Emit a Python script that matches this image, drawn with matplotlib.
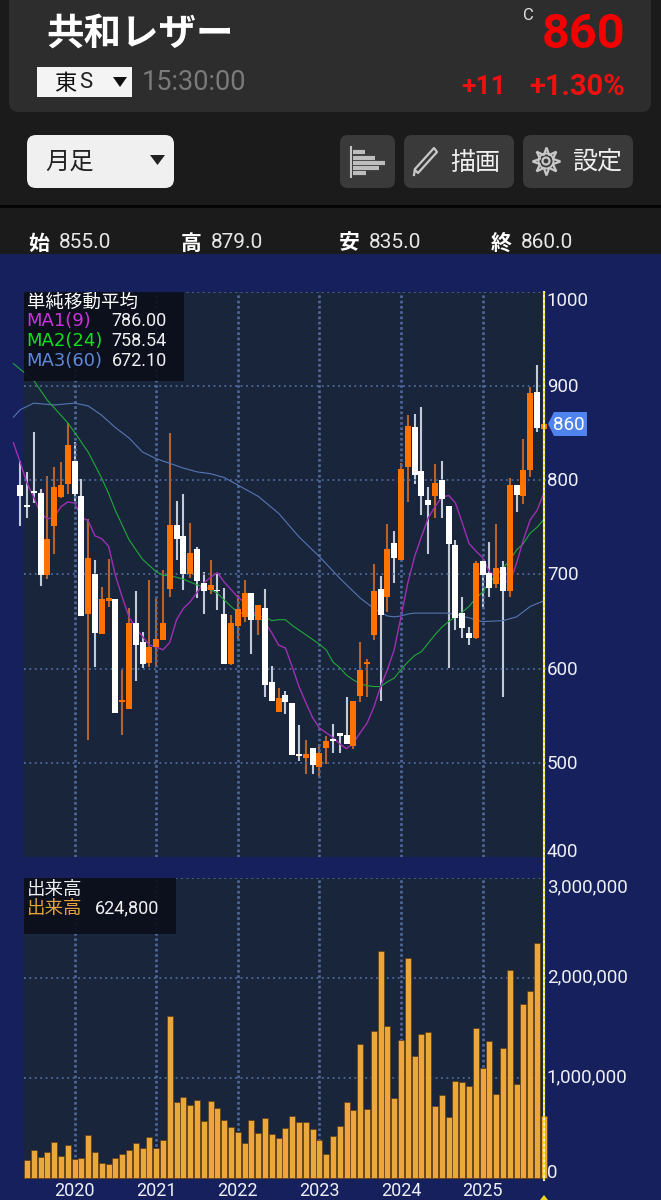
import numpy as np
import matplotlib
matplotlib.use("Agg")
import matplotlib.pyplot as plt
from matplotlib.patches import FancyBboxPatch, Rectangle, Polygon, Circle
from matplotlib.transforms import ScaledTranslation

plt.rcParams['font.family'] = ['Roboto', 'Noto Sans CJK JP', 'DejaVu Sans']

# monthly candles, first one (index -1) sticks out left of the panel
first_month = -1
opens = [795, 774, 789, 787, 699, 751, 782, 796, 821, 783, 658, 701, 637, 672, 674, 565, 557, 649, 628, 606,
         623, 630, 685, 753, 741, 701, 727, 691, 684, 684, 658, 605, 645, 655, 680, 652, 664, 586, 554, 572,
         564, 509, 505, 516, 496, 516, 525, 532, 530, 518, 571, 605, 636, 685, 676, 733, 715, 814, 857, 810,
         779, 783, 800, 773, 731, 659, 638, 633, 714, 702, 690, 708, 682, 795, 783, 811, 894, 855]
highs = [820, 809, 851, 791, 805, 814, 819, 861, 841, 801, 759, 715, 687, 716, 674, 599, 664, 683, 639, 694,
         674, 705, 850, 778, 786, 755, 729, 703, 715, 701, 686, 657, 678, 694, 680, 668, 685, 603, 579, 576,
         564, 540, 524, 516, 520, 529, 541, 532, 570, 566, 628, 610, 711, 698, 754, 746, 818, 869, 870, 878,
         793, 817, 820, 773, 737, 676, 644, 714, 714, 735, 754, 714, 803, 795, 844, 899, 923, 879]
lows = [751, 760, 776, 688, 695, 722, 781, 786, 778, 656, 524, 602, 637, 665, 553, 530, 557, 587, 601, 602,
        602, 630, 676, 715, 684, 696, 675, 658, 679, 662, 605, 604, 632, 650, 616, 636, 570, 566, 554, 552,
        508, 502, 488, 488, 486, 499, 510, 510, 520, 515, 565, 570, 630, 566, 660, 691, 715, 777, 796, 763,
        722, 760, 760, 601, 641, 633, 625, 631, 666, 676, 686, 570, 676, 766, 775, 804, 851, 835]
closes = [783, 772, 787, 699, 738, 793, 795, 837, 786, 656, 717, 638, 674, 675, 553, 567, 648, 625, 605, 623,
          632, 649, 753, 738, 701, 723, 693, 683, 689, 682, 605, 649, 663, 680, 652, 668, 583, 566, 569, 565,
          508, 507, 509, 498, 510, 523, 523, 529, 520, 566, 599, 607, 682, 657, 727, 718, 812, 858, 806, 783,
          774, 797, 780, 732, 654, 643, 633, 712, 699, 686, 707, 682, 795, 784, 811, 893, 856, 860]

# volume starts one month later than the candles
volumes = [177000, 277000, 210000, 257000, 357000, 217000, 330000, 193000, 203000, 427000, 257000,
           150000, 140000, 203000, 240000, 283000, 347000, 300000, 410000, 303000, 380000, 1617000,
           760000, 807000, 727000, 780000, 570000, 770000, 700000, 577000, 510000, 460000, 353000,
           577000, 447000, 597000, 437000, 400000, 500000, 617000, 563000, 563000, 490000, 380000,
           243000, 417000, 517000, 757000, 683000, 1340000, 687000, 1467000, 2273000, 1517000, 800000,
           1380000, 2197000, 1223000, 1440000, 1463000, 720000, 830000, 610000, 967000, 957000, 923000,
           1500000, 1100000, 1373000, 843000, 1300000, 2083000, 943000, 1740000, 1873000, 2347000, 624800]

# moving averages
ma1_month = list(range(-2, 77))
ma1 = [840, 819, 797, 782, 765, 759, 761, 772, 777, 776, 761, 757, 741, 738, 730, 699, 676, 655, 643, 634,
       625, 623, 620, 628, 652, 664, 671, 681, 691, 697, 702, 692, 684, 676, 670, 662, 655, 649, 638, 625,
       622, 602, 581, 564, 548, 537, 532, 527, 520, 515, 521, 532, 542, 559, 581, 599, 620, 655, 691, 719,
       740, 760, 772, 782, 784, 776, 755, 733, 725, 718, 703, 697, 694, 691, 712, 737, 758, 768, 786]
ma2_month = [-2, 1, 3, 5, 6, 7, 9, 11, 12, 13, 15, 17, 19, 20, 21, 22, 23, 24, 25, 26, 27, 28, 29, 30, 31, 33, 35,
             36, 37, 38, 39, 40, 41, 42, 43, 44, 45, 46, 47, 48, 49, 50, 51, 52, 53, 54, 55, 56, 57, 58, 59, 60,
             61, 62, 63, 64, 65, 66, 67, 68, 69, 70, 71, 72, 73, 74, 75, 76]
ma2 = [924, 906, 885, 869, 861, 851, 830, 802, 786, 768, 737, 716, 703, 699, 699, 697, 695, 692, 689, 687, 684,
       680, 673, 666, 660, 657, 655, 651, 652, 652, 646, 641, 636, 631, 626, 620, 607, 601, 593, 588, 584, 582,
       581, 581, 586, 590, 599, 607, 614, 618, 627, 636, 644, 650, 655, 660, 666, 675, 681, 692, 699, 707, 715,
       726, 733, 744, 750, 758.54]
ma3_month = [-2, -1, 1, 4, 7, 9, 11, 13, 15, 17, 19, 21, 23, 25, 27, 29, 31, 34, 37, 40, 43, 46, 49, 51, 53, 54,
             55, 56, 57, 59, 62, 65, 67, 70, 72, 74, 76]
ma3 = [867, 875, 882, 880, 882, 879, 869, 856, 845, 830, 823, 818, 813, 809, 807, 803, 795, 783, 765, 740, 719,
       696, 675, 664, 656, 655, 656, 658, 659, 659, 659, 654, 650, 651, 655, 666, 672.1]

price_ticks = [400, 500, 600, 700, 800, 900, 1000]
volume_ticks = [0, 1000000, 2000000, 3000000]
volume_tick_labels = ['0', '1,000,000', '2,000,000', '3,000,000']
year_months = [7, 19, 31, 43, 55, 67]
year_labels = ['2020', '2021', '2022', '2023', '2024', '2025']

ma_labels = ['MA1(9)', 'MA2(24)', 'MA3(60)']
ma_values = ['786.00', '758.54', '672.10']
ma_colors = ['#9e2fb4', '#1fa83a', '#5676b4']
ma_text_colors = ['#c933dc', '#12e01e', '#5f88d8']

NAVY = '#15205c'
PANEL = '#19253b'
GRID = '#50699a'
CJK = ['Noto Sans CJK JP', 'DejaVu Sans']

W, H = 661, 1200
fig = plt.figure(figsize=(W / 100, H / 100), dpi=100, facecolor=NAVY)


def px_axes(left, top, right, bottom):
    return fig.add_axes([left / W, 1 - bottom / H, (right - left) / W, (bottom - top) / H])


def nudge_up(label, pixels):
    label.set_transform(label.get_transform() + ScaledTranslation(0, pixels / 100, fig.dpi_scale_trans))


# background with the app header
ui = fig.add_axes([0, 0, 1, 1], zorder=0)
ui.set_xlim(0, W)
ui.set_ylim(H, 0)
ui.axis('off')
ui.add_patch(Rectangle((0, 0), W, 254, color='#1b1b1b', lw=0))
ui.add_patch(Rectangle((0, 205), W, 2.5, color='#050505', lw=0))
ui.add_patch(FancyBboxPatch((9, -20), 642, 132, boxstyle='round,pad=0,rounding_size=10', fc='#2d2d2d', ec='none'))

ui.text(46, 33, '共和レザー', color='white', fontsize=27, fontweight='bold', family=CJK, va='center', ha='left')
ui.text(528, 16, 'C', color='#dddddd', fontsize=12, va='center', ha='center')
ui.text(625, 35, '860', color='#f40000', fontsize=35, fontweight='bold', va='center', ha='right')

ui.add_patch(Rectangle((37, 67), 95, 30, color='#f4f4f4', lw=0))
ui.text(54, 84, '東', color='#111111', fontsize=16, family=CJK, va='center', ha='left')
ui.text(79, 83, 'S', color='#222222', fontsize=16, va='center', ha='left')
ui.add_patch(Polygon([[113, 77], [127, 77], [120, 87]], color='#111111', lw=0))
ui.text(142, 83, '15:30:00', color='#7a7a7a', fontsize=19.5, va='center', ha='left')
ui.text(506, 87, '+11', color='#ef1010', fontsize=19, fontweight='bold', va='center', ha='right')
ui.text(625, 87, '+1.30%', color='#ef1010', fontsize=21, fontweight='bold', va='center', ha='right')

ui.add_patch(FancyBboxPatch((27, 135), 147, 53, boxstyle='round,pad=0,rounding_size=9', fc='#f0f0f0', ec='none'))
ui.text(45, 162, '月足', color='#222222', fontsize=17.5, family=CJK, va='center', ha='left')
ui.add_patch(Polygon([[150, 155], [165, 155], [157.5, 165]], color='#222222', lw=0))

for left, right in [(340, 395), (404, 514), (523, 633)]:
    ui.add_patch(FancyBboxPatch((left, 135), right - left, 53, boxstyle='round,pad=0,rounding_size=8',
                                fc='#3a3a3a', ec='none'))
ui.plot([350.5, 350.5], [147, 177], color='#c4c4c4', lw=1.5)
for y, x_end in zip([152, 157.5, 163, 168, 173], [365, 375, 385, 379, 366]):
    ui.plot([353, x_end], [y, y], color='#bdbdbd', lw=3, solid_capstyle='butt')
ui.plot([415, 418, 437, 434, 415, 414], [170, 173, 152, 148, 169, 175], color='#c8c8c8', lw=1.6)
ui.text(450, 163, '描画', color='#f0f0f0', fontsize=18, family=CJK, va='center', ha='left')
ui.plot([546], [161], marker=(8, 1, 0), ms=20, mfc='none', mec='#c8c8c8', mew=1.6)
ui.add_patch(Circle((546, 161), 7.5, fc='#3a3a3a', ec='#c8c8c8', lw=1.4))
ui.add_patch(Circle((546, 161), 3.5, fc='none', ec='#c8c8c8', lw=1.6))
ui.text(572, 163, '設定', color='#f0f0f0', fontsize=18, family=CJK, va='center', ha='left')

for x_head, x_val, head, val in [(28, 59, '始', '855.0'), (181, 211, '高', '879.0'),
                                 (339, 369, '安', '835.0'), (491, 521, '終', '860.0')]:
    ui.text(x_head, 243, head, color='white', fontsize=15, fontweight='bold', family=CJK, va='center', ha='left')
    ui.text(x_val, 243, val, color='#e6e6e6', fontsize=15, va='center', ha='left')

# price panel
ax = px_axes(24, 292, 545.5, 857)
ax.set_facecolor(PANEL)
ax.set_xlim(-0.44, 76.25)
ax.set_ylim(400, 1000)
for s in ax.spines.values():
    s.set_visible(False)
ax.set_axisbelow('line')
ax.set_xticks(year_months)
ax.set_xticklabels([])
ax.set_yticks(price_ticks)
ax.set_yticklabels([str(p) for p in price_ticks])
ax.yaxis.tick_right()
ax.tick_params(length=0, labelcolor='#eef0f6', labelsize=13.5, pad=1)
ax.grid(axis='y', color=GRID, lw=1.3, linestyle=(0, (1, 2)))
ax.grid(axis='x', color=GRID, lw=1.9, linestyle=(0, (1, 1)))
ax.yaxis.get_gridlines()[0].set_visible(False)
ylabs = ax.get_yticklabels()
ylabs[0].set_va('baseline')
ylabs[-1].set_va('top')
for lab in ylabs[1:-1]:
    nudge_up(lab, 1)

months = np.arange(len(opens)) + first_month
opens_a = np.array(opens)
closes_a = np.array(closes)
up = closes_a >= opens_a
wick_colors = ['#b8622a' if u else '#c3cad8' for u in up]
body_colors = ['#ff7200' if u else '#ffffff' for u in up]
ax.vlines(months, lows, highs, colors=wick_colors, lw=1.5, zorder=1, clip_on=False)
ax.plot(ma3_month, ma3, color=ma_colors[2], lw=0.8, zorder=2, clip_on=False)
ax.plot(ma2_month, ma2, color=ma_colors[1], lw=0.8, zorder=2, clip_on=False)
ax.plot(ma1_month, ma1, color=ma_colors[0], lw=1.0, zorder=2, clip_on=False)
ax.bar(months, np.abs(closes_a - opens_a), bottom=np.minimum(opens_a, closes_a), width=0.88,
       color=body_colors, lw=0, zorder=3, clip_on=False)

# volume panel
ax2 = px_axes(24, 878, 545.5, 1178)
ax2.set_facecolor(PANEL)
ax2.set_xlim(-0.44, 76.25)
ax2.set_ylim(0, 3000000)
for s in ax2.spines.values():
    s.set_visible(False)
ax2.set_axisbelow(True)
ax2.set_xticks(year_months)
ax2.set_xticklabels(year_labels)
ax2.set_yticks(volume_ticks)
ax2.set_yticklabels(volume_tick_labels)
ax2.yaxis.tick_right()
ax2.tick_params(length=0, labelcolor='#eef0f6', labelsize=13.5, pad=1)
ax2.tick_params(axis='x', labelsize=13, pad=3)
ax2.grid(axis='y', color=GRID, lw=1.3, linestyle=(0, (1, 2)))
ax2.grid(axis='x', color=GRID, lw=1.9, linestyle=(0, (1, 1)))
ylabs2 = ax2.get_yticklabels()
ylabs2[0].set_va('baseline')
ylabs2[-1].set_va('top')
nudge_up(ylabs2[1], 3)
nudge_up(ylabs2[2], 3)
ax2.bar(np.arange(len(volumes)), volumes, width=0.9, color='#eca73a', edgecolor='#5e3d14', lw=0.5,
        zorder=3, clip_on=False)

# everything that lies on top of the panels
top = fig.add_axes([0, 0, 1, 1], zorder=5)
top.set_xlim(0, W)
top.set_ylim(H, 0)
top.axis('off')
top.patch.set_alpha(0)

top.plot([543.9, 543.9], [292, 1180], color='#f4f4d8', lw=1.5)
top.plot([543.9, 543.9], [292, 1180], color='#f2e21c', lw=1.5, linestyle=(0, (1.5, 1)))
top.add_patch(Polygon([[540, 1200], [548, 1200], [544, 1195]], color='#f2d21c', lw=0))

top.add_patch(Rectangle((24, 292), 160, 89, color='#0b0f1b', alpha=0.92, lw=0))
top.text(27, 303, '単純移動平均', color='white', fontsize=13.3, family=CJK, va='center', ha='left')
for i in range(3):
    y = 321 + 20 * i
    top.text(26.5, y, ma_labels[i], color=ma_text_colors[i], fontsize=13, family='DejaVu Sans',
             va='center', ha='left')
    top.text(167, y, ma_values[i], color='#f0f0f0', fontsize=13, va='center', ha='right')

top.add_patch(Rectangle((24, 878), 152, 56, color='#0b0f1b', alpha=0.92, lw=0))
top.text(27, 890, '出来高', color='#f0f0f0', fontsize=13.3, family=CJK, va='center', ha='left')
top.text(27, 909, '出来高', color='#e9a239', fontsize=13.3, family=CJK, va='center', ha='left')
top.text(159, 908, '624,800', color='#f0f0f0', fontsize=13, va='center', ha='right')

top.add_patch(Polygon([[548, 424], [554, 412], [587, 412], [587, 436], [554, 436]], color='#4f83ee', lw=0))
top.text(569, 424.5, '860', color='white', fontsize=13.5, va='center', ha='center')

fig.savefig('out.png', dpi=100, facecolor=NAVY)
